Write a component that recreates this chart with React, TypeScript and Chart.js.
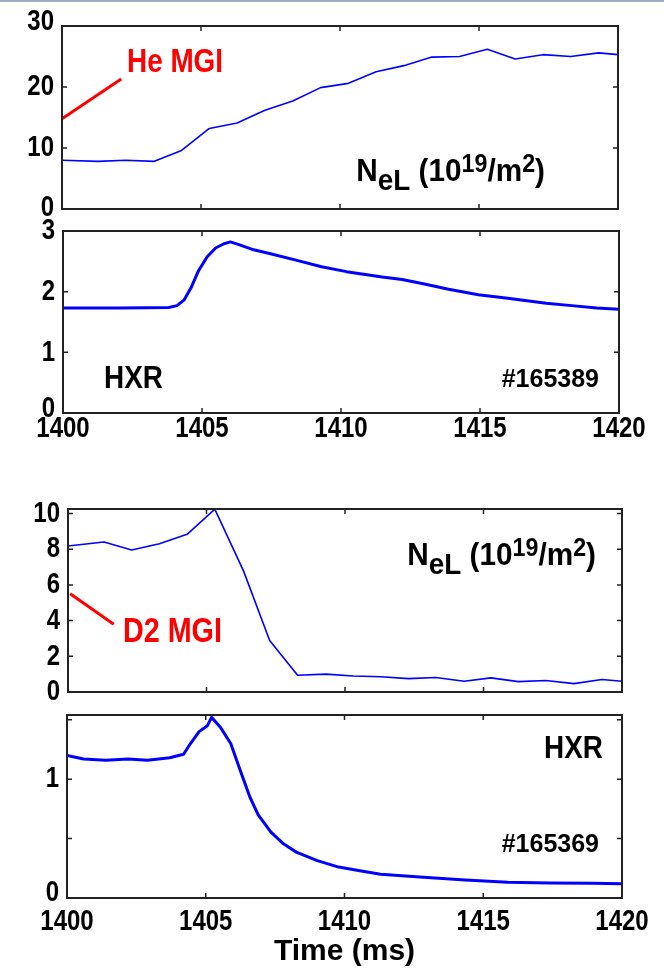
import React, { useEffect, useRef } from 'react';
import { Chart, registerables } from 'chart.js';
Chart.register(...registerables);

const SANS = "'Liberation Sans', Arial, Helvetica, sans-serif";

// ---------- data ----------
const xTicks = [1400, 1405, 1410, 1415, 1420];
const xTickLabels = ['1400', '1405', '1410', '1415', '1420'];

// He MGI shot (#165389)
const neHeTime = [1400, 1401.3, 1402.3, 1403.3, 1404.3, 1405.3, 1406.3, 1407.3, 1408.3, 1409.3, 1410.3, 1411.3, 1412.3, 1413.3, 1414.3, 1415.3, 1416.3, 1417.3, 1418.3, 1419.3, 1420];
const neHeVal = [8.0, 7.8, 8.0, 7.8, 9.6, 13.2, 14.1, 16.2, 17.7, 19.9, 20.6, 22.5, 23.5, 24.9, 25.0, 26.2, 24.6, 25.3, 25.0, 25.6, 25.3];
const hxrHeTime = [1400, 1401, 1402, 1403, 1403.8, 1404.1, 1404.35, 1404.6, 1404.88, 1405.18, 1405.49, 1405.79, 1406.02, 1406.3, 1406.86, 1407.5, 1408.38, 1409.3, 1410.2, 1411.48, 1412.2, 1412.96, 1413.87, 1414.94, 1416.0, 1417.38, 1418.3, 1419.2, 1420];
const hxrHeVal = [1.73, 1.73, 1.73, 1.735, 1.74, 1.77, 1.86, 2.06, 2.35, 2.57, 2.72, 2.79, 2.82, 2.78, 2.69, 2.62, 2.52, 2.41, 2.33, 2.24, 2.2, 2.13, 2.04, 1.95, 1.89, 1.81, 1.77, 1.73, 1.71];
const heMgiMarkX = [1400, 1402.13];
const heMgiMarkY = [14.8, 21.3];

// D2 MGI shot (#165369)
const neD2Time = [1400, 1401.3, 1402.3, 1403.3, 1404.3, 1405.3, 1406.34, 1407.28, 1408.29, 1409.31, 1410.3, 1411.3, 1412.29, 1413.28, 1414.3, 1415.27, 1416.26, 1417.25, 1418.27, 1419.27, 1420];
const neD2Val = [8.18, 8.4, 7.95, 8.3, 8.83, 10.24, 6.77, 2.88, 0.94, 1.0, 0.9, 0.85, 0.75, 0.81, 0.6, 0.79, 0.58, 0.64, 0.47, 0.7, 0.6];
const hxrD2Time = [1400, 1400.6, 1401.4, 1402.2, 1402.9, 1403.7, 1404.2, 1404.45, 1404.76, 1405.06, 1405.21, 1405.52, 1405.9, 1406.28, 1406.59, 1406.89, 1407.35, 1407.8, 1408.26, 1409.02, 1409.79, 1410.55, 1411.3, 1412.84, 1414.36, 1415.88, 1417.4, 1418.9, 1420];
const hxrD2Val = [1.2, 1.17, 1.16, 1.17, 1.16, 1.18, 1.21, 1.3, 1.4, 1.45, 1.52, 1.44, 1.3, 1.05, 0.85, 0.7, 0.555, 0.456, 0.386, 0.315, 0.26, 0.23, 0.2, 0.175, 0.152, 0.132, 0.127, 0.124, 0.12];
const d2MgiMarkX = [1400.08, 1401.65];
const d2MgiMarkY = [5.5, 3.8];

const yTicksNeHe = [0, 10, 20, 30];
const yLabelsNeHe = ['0', '10', '20', '30'];
const yTicksHxrHe = [0, 1, 2, 3];
const yLabelsHxrHe = ['0', '1', '2', '3'];
const yTicksNeD2 = [0, 2, 4, 6, 8, 10];
const yLabelsNeD2 = ['0', '2', '4', '6', '8', '10'];
const yTicksHxrD2 = [0, 0.5, 1, 1.5];
const yLabelsHxrD2 = ['0', '', '1', ''];

const BLUE = '#0000ff';
const RED = '#ff0000';

const pts = (xs: number[], ys: number[]) => xs.map((x, i) => ({ x, y: ys[i] }));

type Part = { t: string; size: number; dy: number };
type TextItem = { parts: Part[]; x: number; y: number; align: 'left' | 'right'; color: string; sx: number };

const nelParts: Part[] = [
  { t: 'N', size: 32, dy: 0 },
  { t: 'eL', size: 30, dy: 9 },
  { t: ' (10', size: 32, dy: 0 },
  { t: '19', size: 25, dy: -9 },
  { t: '/m', size: 32, dy: 0 },
  { t: '2', size: 25, dy: -9 },
  { t: ')', size: 32, dy: 0 },
];

type Spec = {
  top: number; height: number; padTop: number; left: number; right: number; xAxisH: number;
  yMin: number; yMax: number; yTicks: number[]; yLabels: string[]; edgeDy: [number, number];
  showX: boolean; xLabelY: number; title?: string; titlePad?: number;
  datasets: any[]; texts: TextItem[];
};

const specs: Spec[] = [
  {
    top: 0, height: 235, padTop: 26, left: 62, right: 618, xAxisH: 26,
    yMin: 0, yMax: 30, yTicks: yTicksNeHe, yLabels: yLabelsNeHe, edgeDy: [-1, -4], showX: false, xLabelY: 0,
    datasets: [
      { data: pts(neHeTime, neHeVal), borderColor: BLUE, borderWidth: 1.6 },
      { data: pts(heMgiMarkX, heMgiMarkY), borderColor: RED, borderWidth: 3 },
    ],
    texts: [
      { parts: [{ t: 'He MGI', size: 34, dy: 0 }], x: 127, y: 72, align: 'left', color: RED, sx: 0.82 },
      { parts: nelParts, x: 545, y: 181, align: 'right', color: '#000', sx: 0.93 },
    ],
  },
  {
    top: 210, height: 240, padTop: 21, left: 63, right: 619, xAxisH: 37,
    yMin: 0, yMax: 3, yTicks: yTicksHxrHe, yLabels: yLabelsHxrHe, edgeDy: [-4, 0], showX: true, xLabelY: 429,
    datasets: [{ data: pts(hxrHeTime, hxrHeVal), borderColor: BLUE, borderWidth: 3 }],
    texts: [
      { parts: [{ t: 'HXR', size: 31, dy: 0 }], x: 104, y: 388, align: 'left', color: '#000', sx: 0.9 },
      { parts: [{ t: '#165389', size: 25, dy: 0 }], x: 599, y: 387, align: 'right', color: '#000', sx: 1 },
    ],
  },
  {
    top: 489, height: 225, padTop: 20, left: 68, right: 622, xAxisH: 22,
    yMin: 0, yMax: 10.25, yTicks: yTicksNeD2, yLabels: yLabelsNeD2, edgeDy: [0, 0], showX: false, xLabelY: 0,
    datasets: [
      { data: pts(neD2Time, neD2Val), borderColor: BLUE, borderWidth: 1.6 },
      { data: pts(d2MgiMarkX, d2MgiMarkY), borderColor: RED, borderWidth: 3 },
    ],
    texts: [
      { parts: nelParts, x: 596, y: 565, align: 'right', color: '#000', sx: 0.93 },
      { parts: [{ t: 'D2 MGI', size: 35, dy: 0 }], x: 123, y: 642, align: 'left', color: RED, sx: 0.82 },
    ],
  },
  {
    top: 695, height: 276, padTop: 20, left: 67, right: 622, xAxisH: 73,
    yMin: 0, yMax: 1.54, yTicks: yTicksHxrD2, yLabels: yLabelsHxrD2, edgeDy: [-5, 0], showX: true, xLabelY: 922,
    title: 'Time (ms)', titlePad: 4,
    datasets: [{ data: pts(hxrD2Time, hxrD2Val), borderColor: BLUE, borderWidth: 3 }],
    texts: [
      { parts: [{ t: 'HXR', size: 31, dy: 0 }], x: 544, y: 758, align: 'left', color: '#000', sx: 0.9 },
      { parts: [{ t: '#165369', size: 25, dy: 0 }], x: 599, y: 852, align: 'right', color: '#000', sx: 1 },
    ],
  },
];

const TICK_SIZE = 30;
const TICK_SX = 0.8;

function drawScaled(ctx: any, text: string, x: number, y: number, size: number, sx: number, align: string, baseline: string) {
  ctx.save();
  ctx.font = `bold ${size}px ${SANS}`;
  ctx.textAlign = align;
  ctx.textBaseline = baseline;
  ctx.translate(x, y);
  ctx.scale(sx, 1);
  ctx.fillText(text, 0, 0);
  ctx.restore();
}

function Panel({ spec }: { spec: Spec }) {
  const ref = useRef<HTMLCanvasElement>(null);
  useEffect(() => {
    if (!ref.current) return;
    const framePlugin = {
      id: 'frame',
      afterDatasetsDraw(chart: any) {
        const ctx = chart.ctx;
        const { left, right, top, bottom } = chart.chartArea;
        const xs = chart.scales.x;
        const ys = chart.scales.y;
        ctx.save();
        // inward tick marks
        ctx.strokeStyle = '#222';
        ctx.lineWidth = 1.5;
        ctx.beginPath();
        const tl = 5;
        ys.ticks.forEach((t: any) => {
          const py = ys.getPixelForValue(t.value);
          ctx.moveTo(left, py); ctx.lineTo(left + tl, py);
          ctx.moveTo(right, py); ctx.lineTo(right - tl, py);
        });
        xs.ticks.forEach((t: any) => {
          const px = xs.getPixelForValue(t.value);
          ctx.moveTo(px, bottom); ctx.lineTo(px, bottom - tl);
          ctx.moveTo(px, top); ctx.lineTo(px, top + tl);
        });
        ctx.stroke();
        ctx.lineWidth = 2;
        ctx.strokeRect(left, top, right - left, bottom - top);
        ctx.fillStyle = '#000';
        // tick labels (from the scales' ticks)
        const n = ys.ticks.length;
        ys.ticks.forEach((t: any, i: number) => {
          const lab = spec.yLabels[i];
          const dy = i === 0 ? spec.edgeDy[0] : i === n - 1 ? spec.edgeDy[1] : 0;
          if (lab) drawScaled(ctx, lab, left - 8, ys.getPixelForValue(t.value) + dy, TICK_SIZE, TICK_SX, 'right', 'middle');
        });
        if (spec.showX) {
          xs.ticks.forEach((t: any, i: number) => {
            drawScaled(ctx, xTickLabels[i], xs.getPixelForValue(t.value), spec.xLabelY - spec.top, TICK_SIZE, TICK_SX, 'center', 'middle');
          });
        }
        // annotation texts
        spec.texts.forEach((item) => {
          ctx.fillStyle = item.color;
          let total = 0;
          item.parts.forEach((p) => {
            ctx.font = `bold ${p.size}px ${SANS}`;
            total += ctx.measureText(p.t).width * item.sx;
          });
          let x = item.align === 'left' ? item.x : item.x - total;
          const y = item.y - spec.top;
          item.parts.forEach((p) => {
            drawScaled(ctx, p.t, x, y + p.dy, p.size, item.sx, 'left', 'alphabetic');
            ctx.font = `bold ${p.size}px ${SANS}`;
            x += ctx.measureText(p.t).width * item.sx;
          });
        });
        ctx.restore();
      },
    };
    const chart = new Chart(ref.current, {
      type: 'line',
      data: {
        datasets: spec.datasets.map((d) => ({
          ...d, pointRadius: 0, fill: false, tension: 0, borderJoinStyle: 'round',
        })),
      },
      options: {
        animation: false,
        responsive: false,
        events: [],
        layout: { padding: { top: spec.padTop, right: 664 - spec.right, left: 0, bottom: 0 } },
        plugins: { legend: { display: false }, tooltip: { enabled: false } },
        scales: {
          x: {
            type: 'linear', min: 1400, max: 1420,
            grid: { display: false, drawTicks: false },
            border: { display: false },
            afterBuildTicks: (s: any) => { s.ticks = xTicks.map((v) => ({ value: v })); },
            afterFit: (s: any) => { s.height = spec.xAxisH; },
            ticks: { display: false },
            title: spec.title ? {
              display: true, text: spec.title, color: '#000',
              font: { family: SANS, size: 30, weight: 'bold', lineHeight: 1 },
              padding: { top: 0, bottom: spec.titlePad || 0 },
            } : { display: false },
          },
          y: {
            type: 'linear', min: spec.yMin, max: spec.yMax,
            grid: { display: false, drawTicks: false },
            border: { display: false },
            afterBuildTicks: (s: any) => { s.ticks = spec.yTicks.map((v) => ({ value: v })); },
            afterFit: (s: any) => { s.width = spec.left; },
            ticks: { display: false },
          },
        },
      } as any,
      plugins: [framePlugin],
    });
    return () => chart.destroy();
  }, [spec]);
  return (
    <canvas
      ref={ref}
      width={664}
      height={spec.height}
      style={{ position: 'absolute', left: 0, top: spec.top, width: 664, height: spec.height }}
    />
  );
}

export default function App() {
  useEffect(() => {
    document.body.style.margin = '0';
  }, []);
  return (
    <div style={{ position: 'relative', width: 664, height: 971, background: '#fff', overflow: 'hidden' }}>
      <div style={{ position: 'absolute', left: 0, top: 0, width: 664, height: 2, background: '#a3aac8' }} />
      {specs.map((s, i) => <Panel key={i} spec={s} />)}
    </div>
  );
}
